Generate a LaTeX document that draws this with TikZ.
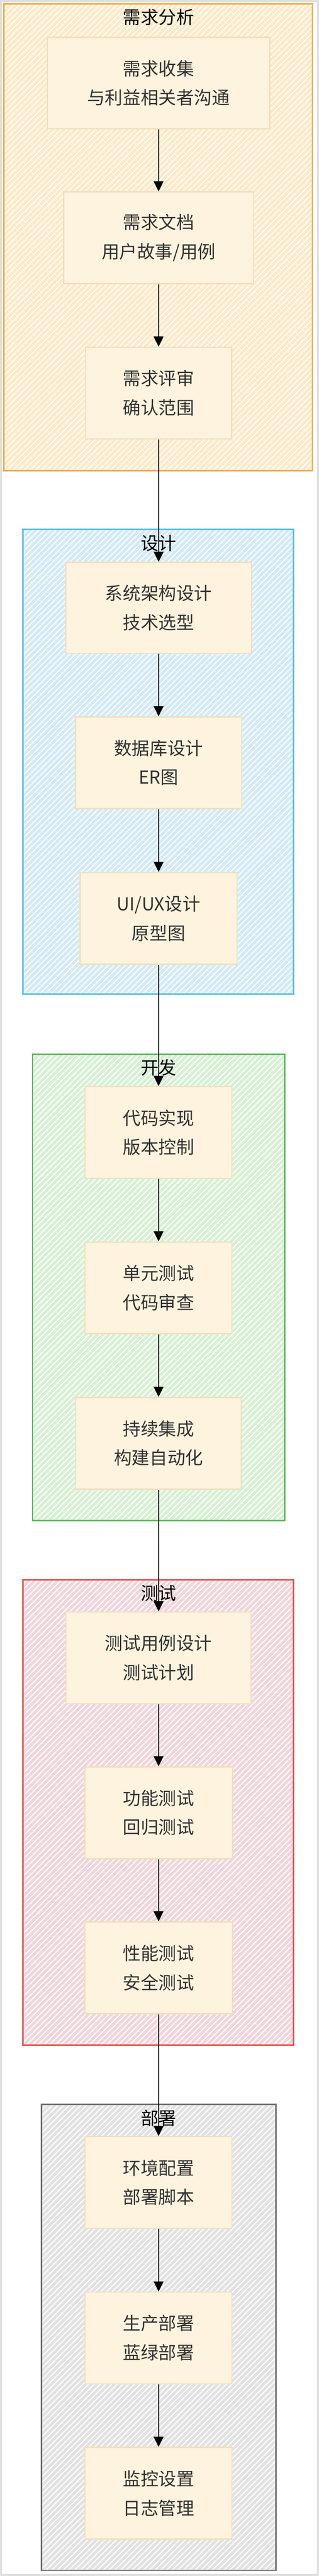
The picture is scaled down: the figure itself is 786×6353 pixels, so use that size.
\documentclass[tikz,border=0pt]{standalone}
\usepackage{fontspec}
\setmainfont{Noto Sans CJK SC}
\usetikzlibrary{arrows.meta, patterns.meta}
\definecolor{req_line}{RGB}{245, 170, 70}
\definecolor{req_bg}{RGB}{252, 234, 200}
\definecolor{des_line}{RGB}{94, 190, 224}
\definecolor{des_bg}{RGB}{212, 234, 246}
\definecolor{dev_line}{RGB}{92, 186, 92}
\definecolor{dev_bg}{RGB}{216, 240, 212}
\definecolor{tst_line}{RGB}{226, 86, 82}
\definecolor{tst_bg}{RGB}{240, 214, 220}
\definecolor{dep_line}{RGB}{110, 110, 110}
\definecolor{dep_bg}{RGB}{226, 226, 226}
\definecolor{task_bg}{RGB}{253, 243, 222}
\definecolor{task_line}{RGB}{240, 224, 190}
\definecolor{task_text}{RGB}{50, 50, 50}
\tikzset{frame/.style 2 args={rectangle, minimum height=1148pt, fill=#2, postaction={pattern={Lines[angle=45, distance=10pt, line width=2.5pt]}, pattern color=white}, postaction={draw=#1, line width=3.5pt}}}
\tikzstyle{title} = [font=\fontsize{44}{50}\selectfont, text=black]
\tikzstyle{task} = [rectangle, minimum height=226pt, align=center, draw=task_line, line width=3pt, fill=task_bg, text=task_text, font=\fontsize{44}{72}\selectfont]
\tikzstyle{arrow} = [line width=3pt, -{Triangle[length=25pt, width=24pt]}]

\begin{document}
\begin{tikzpicture}[x=1pt, y=-1pt]
        \useasboundingbox (0,0) rectangle (786,6353);
        \draw [line width=10pt, black!12] (0,0) rectangle (786,6353);

        \node (reqframe) [frame={req_line}{req_bg}, minimum width=760pt, minimum height=1151pt] at (390,585.5) {};
        \node (desframe) [frame={des_line}{des_bg}, minimum width=667pt, minimum height=1146pt] at (390.5,1879) {};
        \node (devframe) [frame={dev_line}{dev_bg}, minimum width=622pt, minimum height=1150pt] at (391,3175) {};
        \node (tstframe) [frame={tst_line}{tst_bg}, minimum width=667pt] at (390.5,4470) {};
        \node (depframe) [frame={dep_line}{dep_bg}, minimum width=578pt, minimum height=1149pt] at (391,5764.5) {};

        \node (reqtitle) [title] at (391,42) {需求分析};
        \node (destitle) [title] at (391,1340) {设计};
        \node (devtitle) [title] at (391,2633) {开发};
        \node (tsttitle) [title] at (391,3929) {测试};
        \node (deptitle) [title] at (391,5224) {部署};

        \node (gather) [task, minimum width=548pt] at (391,205) {需求收集\\与利益相关者沟通};
        \node (reqdoc) [task, minimum width=468pt] at (391,586.5) {需求文档\\用户故事/用例};
        \node (review) [task, minimum width=360pt] at (391,969.5) {需求评审\\确认范围};

        \node (arch) [task, minimum width=458pt, minimum height=224pt] at (391,1499) {系统架构设计\\技术选型};
        \node (dbdesign) [task, minimum width=410pt] at (391,1881) {数据库设计\\ER图};
        \node (uiux) [task, minimum width=387pt] at (391,2265) {UI/UX设计\\原型图};

        \node (coding) [task, minimum width=362pt] at (391,2793) {代码实现\\版本控制};
        \node (unittest) [task, minimum width=362pt] at (391,3176) {单元测试\\代码审查};
        \node (ci) [task, minimum width=408pt] at (391,3559.5) {持续集成\\构建自动化};

        \node (testcase) [task, minimum width=456pt] at (391,4088.5) {测试用例设计\\测试计划};
        \node (functest) [task, minimum width=364pt] at (391,4470.5) {功能测试\\回归测试};
        \node (perftest) [task, minimum width=364pt] at (391,4853) {性能测试\\安全测试};

        \node (envconf) [task, minimum width=362pt] at (391,5382.5) {环境配置\\部署脚本};
        \node (prod) [task, minimum width=362pt] at (391,5766) {生产部署\\蓝绿部署};
        \node (monitor) [task, minimum width=362pt] at (391,6149) {监控设置\\日志管理};

        \draw [arrow] (gather) -- (reqdoc);
        \draw [arrow] (reqdoc) -- (review);
        \draw [arrow] (review) -- (arch);
        \draw [arrow] (arch) -- (dbdesign);
        \draw [arrow] (dbdesign) -- (uiux);
        \draw [arrow] (uiux) -- (coding);
        \draw [arrow] (coding) -- (unittest);
        \draw [arrow] (unittest) -- (ci);
        \draw [arrow] (ci) -- (testcase);
        \draw [arrow] (testcase) -- (functest);
        \draw [arrow] (functest) -- (perftest);
        \draw [arrow] (perftest) -- (envconf);
        \draw [arrow] (envconf) -- (prod);
        \draw [arrow] (prod) -- (monitor);
    \end{tikzpicture}
\end{document}
